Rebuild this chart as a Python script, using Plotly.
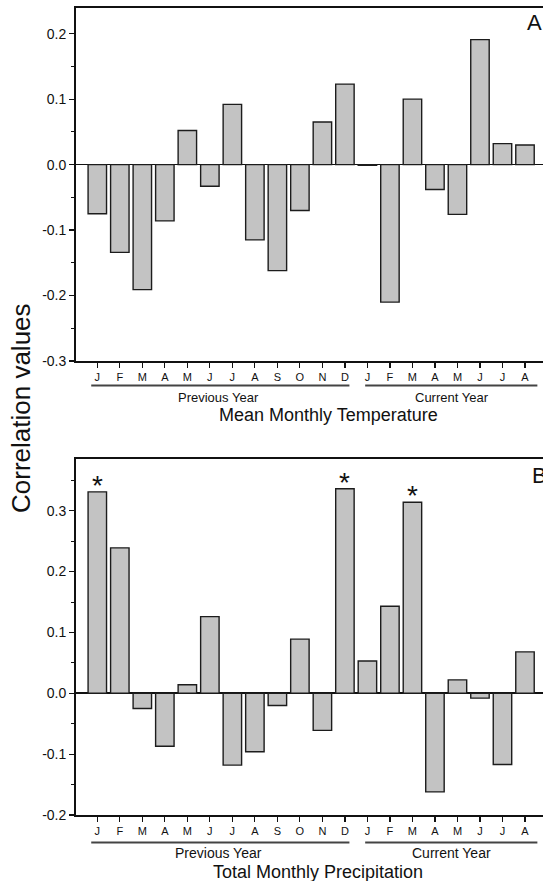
import plotly.graph_objects as go

W, H = 543, 881

months = ["J", "F", "M", "A", "M", "J", "J", "A", "S", "O", "N", "D",
          "J", "F", "M", "A", "M", "J", "J", "A"]
n_prev = 12  # first 12 months = previous year

temp_corr = [-0.075, -0.134, -0.191, -0.086, 0.052, -0.033, 0.092, -0.115,
             -0.162, -0.070, 0.065, 0.123,
             -0.001, -0.210, 0.100, -0.038, -0.076, 0.191, 0.032, 0.030]
precip_corr = [0.331, 0.239, -0.025, -0.087, 0.014, 0.126, -0.118, -0.096,
               -0.020, 0.089, -0.061, 0.336,
               0.053, 0.143, 0.314, -0.162, 0.022, -0.008, -0.117, 0.068]
precip_signif = [0, 11, 14]  # indices marked with *

yticks_a = [-0.3, -0.2, -0.1, 0.0, 0.1, 0.2]
yticks_b = [-0.2, -0.1, 0.0, 0.1, 0.2, 0.3]
ytext_a = ["-0.3", "-0.2", "-0.1", "0.0", "0.1", "0.2"]
ytext_b = ["-0.2", "-0.1", "0.0", "0.1", "0.2", "0.3"]

FONT = "Liberation Sans, Arial, Helvetica, sans-serif"
INK = "#111111"
BAR_FILL = "#c3c3c3"
BAR_LINE = "#1c1c1c"


def px(x):
    return x / W


def py(y):
    return min(1.0, max(0.0, 1 - y / H))


x_idx = list(range(len(months)))

fig = go.Figure()
fig.add_trace(go.Bar(x=x_idx, y=temp_corr, width=0.82, xaxis="x", yaxis="y",
                     marker=dict(color=BAR_FILL, line=dict(color=BAR_LINE, width=1.4)),
                     showlegend=False, hoverinfo="skip"))
fig.add_trace(go.Bar(x=x_idx, y=precip_corr, width=0.82, xaxis="x2", yaxis="y2",
                     marker=dict(color=BAR_FILL, line=dict(color=BAR_LINE, width=1.4)),
                     showlegend=False, hoverinfo="skip"))

x_left = px(75.7)
xr = [-0.96, 19.8]

xaxis_common = dict(
    range=xr, tickmode="array", tickvals=x_idx, ticktext=months,
    ticks="outside", ticklen=5, tickwidth=1.2, tickcolor=INK,
    showline=True, mirror=True, linecolor=INK, linewidth=1.6,
    showgrid=False, zeroline=False, fixedrange=True, automargin=False,
    tickfont=dict(family=FONT, size=11, color=INK),
    domain=[x_left, 1.0],
)
yaxis_common = dict(
    tickmode="array", ticks="outside", ticklen=5, tickwidth=1.2, tickcolor=INK,
    showline=True, mirror=False, linecolor=INK, linewidth=1.6,
    showgrid=False, zeroline=True, zerolinecolor=INK, zerolinewidth=1.6,
    fixedrange=True, automargin=False,
    tickfont=dict(family=FONT, size=14, color=INK),
    minor=dict(dtick=0.05, tick0=0, ticks="outside", ticklen=3,
               tickwidth=1.0, tickcolor=INK, showgrid=False),
)

fig.update_layout(
    width=W, height=H,
    margin=dict(l=0, r=0, t=0, b=0),
    paper_bgcolor="white", plot_bgcolor="white",
    bargap=0,
    xaxis=dict(xaxis_common, anchor="y"),
    yaxis=dict(yaxis_common, range=[-0.3, 0.24], tickvals=yticks_a, ticktext=ytext_a,
               domain=[py(361), py(7.5)], anchor="x"),
    xaxis2=dict(xaxis_common, anchor="y2"),
    yaxis2=dict(yaxis_common, range=[-0.2, 0.385], tickvals=yticks_b, ticktext=ytext_b,
                domain=[py(815), py(459)], anchor="x2"),
)

shapes = []
annotations = []

# group lines and labels under each panel
for xa, line_y, lab_y, title, title_x, title_y, lab_size in [
    ("x", 385.5, 398, "Mean Monthly Temperature", 328, 415, 13),
    ("x2", 842.5, 853, "Total Monthly Precipitation", 318, 872, 14),
]:
    prev_lo, prev_hi = 0, n_prev - 1
    cur_lo, cur_hi = n_prev, len(months) - 1
    for lo, hi in [(prev_lo - 0.27, prev_hi + 0.2), (cur_lo - 0.1, cur_hi + 0.55)]:
        shapes.append(dict(type="line", xref=xa, yref="paper", x0=lo, x1=hi,
                           y0=py(line_y), y1=py(line_y),
                           line=dict(color="#444444", width=2)))
    annotations.append(dict(xref=xa, yref="paper", x=(prev_lo + prev_hi) / 2 - 0.1,
                            y=py(lab_y), text="Previous Year", showarrow=False,
                            xanchor="center", yanchor="middle",
                            font=dict(family=FONT, size=lab_size, color=INK)))
    annotations.append(dict(xref=xa, yref="paper", x=(cur_lo + cur_hi) / 2 + 0.25,
                            y=py(lab_y), text="Current Year", showarrow=False,
                            xanchor="center", yanchor="middle",
                            font=dict(family=FONT, size=lab_size, color=INK)))
    annotations.append(dict(xref="paper", yref="paper", x=px(title_x), y=py(title_y),
                            text=title, showarrow=False, xanchor="center",
                            yanchor="middle",
                            font=dict(family=FONT, size=18, color=INK)))

# panel letters (cropped at the right edge as in the source figure)
annotations.append(dict(xref="paper", yref="paper", x=px(525), y=py(23), text="A",
                        showarrow=False, xanchor="left", yanchor="middle",
                        font=dict(family=FONT, size=22, color=INK)))
annotations.append(dict(xref="paper", yref="paper", x=px(530), y=py(475.5), text="B",
                        showarrow=False, xanchor="left", yanchor="middle",
                        font=dict(family=FONT, size=22, color=INK)))

# significance stars
for i in precip_signif:
    annotations.append(dict(xref="x2", yref="y2", x=i, y=precip_corr[i], text="*",
                            showarrow=False, xanchor="center", yanchor="bottom",
                            yshift=-11,
                            font=dict(family=FONT, size=28, color=INK)))

# shared y-axis title
annotations.append(dict(xref="paper", yref="paper", x=px(21), y=py(408),
                        text="Correlation values", textangle=-90, showarrow=False,
                        xanchor="center", yanchor="middle",
                        font=dict(family=FONT, size=26, color=INK)))

fig.update_layout(shapes=shapes, annotations=annotations)

fig.write_html("out.html",
               config={"displayModeBar": False, "staticPlot": True},
               post_script="document.body.style.margin='0';"
                           "document.body.style.overflow='hidden';")
